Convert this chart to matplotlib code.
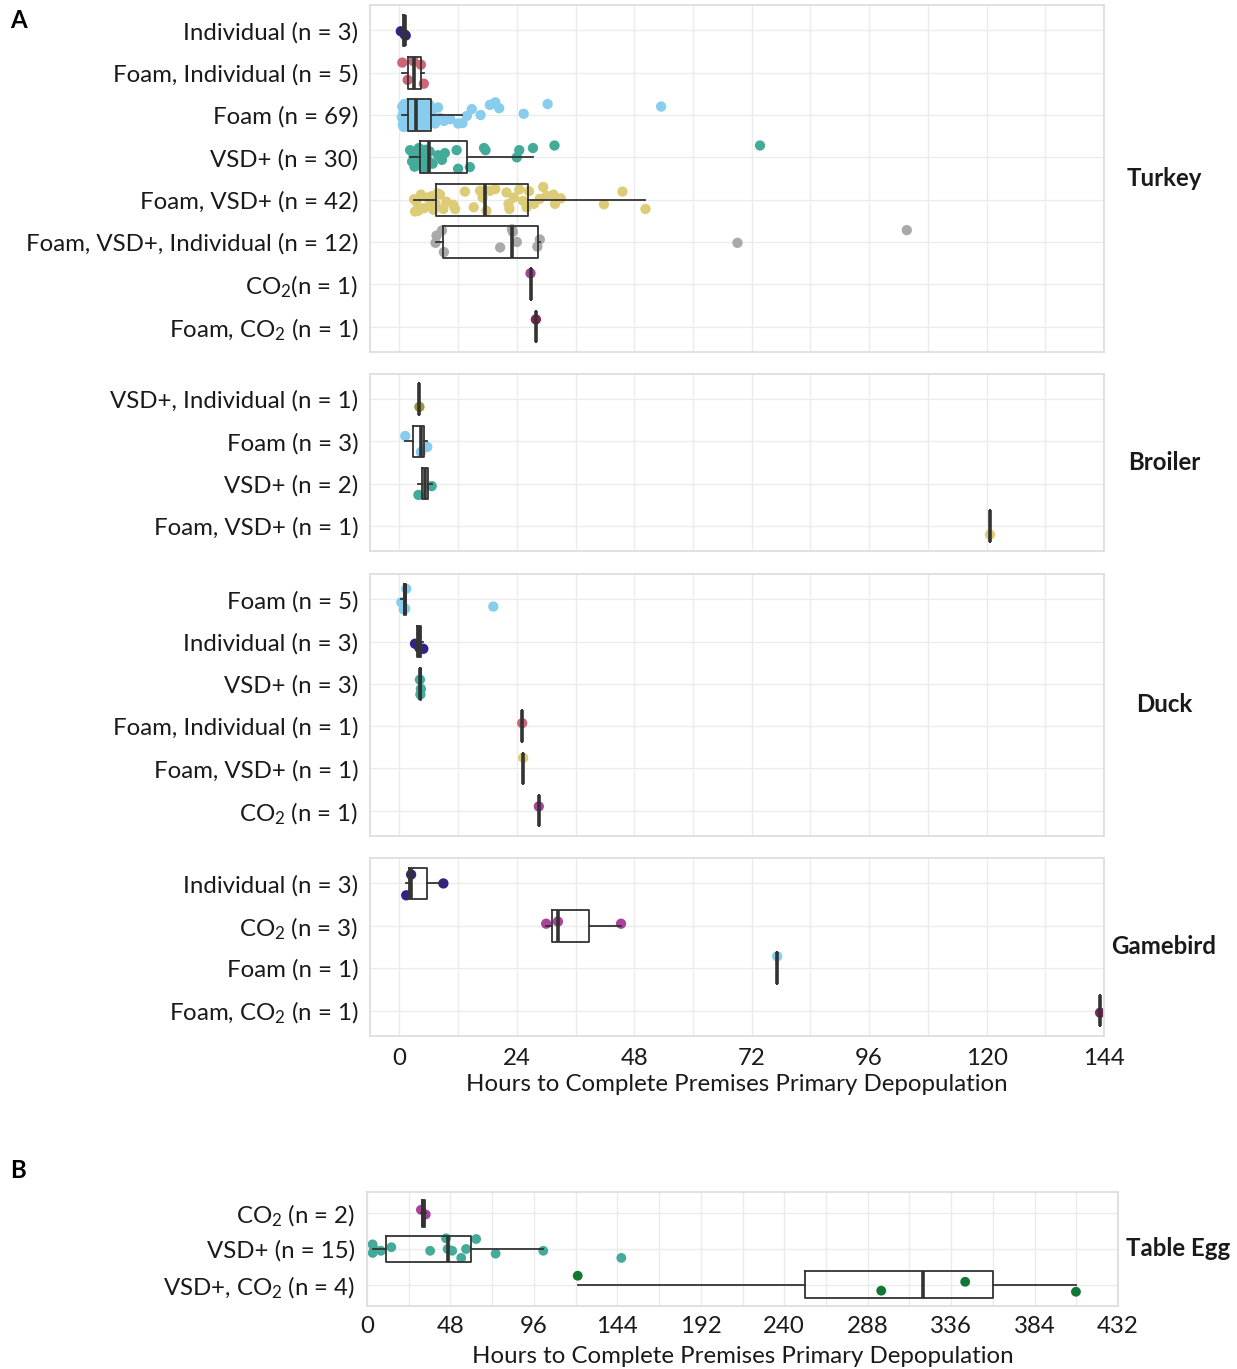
import matplotlib
matplotlib.use('Agg')
import matplotlib.pyplot as plt
import numpy as np

plt.rcParams['font.family'] = ['Lato', 'DejaVu Sans']
plt.rcParams['mathtext.fontset'] = 'custom'
plt.rcParams['mathtext.rm'] = 'Lato'
plt.rcParams['mathtext.it'] = 'Lato:italic'
plt.rcParams['mathtext.bf'] = 'Lato:bold'

# Treatment colours (Tol muted palette)
colors = {
    'Individual': '#332288',
    'Foam, Individual': '#CC6677',
    'Foam': '#88CCEE',
    'VSD+': '#44AA99',
    'Foam, VSD+': '#DDCC77',
    'Foam, VSD+, Individual': '#A9A9A9',
    'CO2': '#AA4499',
    'Foam, CO2': '#882255',
    'VSD+, Individual': '#999933',
    'VSD+, CO2': '#117733',
}

# ---- Turkey ----
turkey_groups = ['Individual', 'Foam, Individual', 'Foam', 'VSD+', 'Foam, VSD+',
                 'Foam, VSD+, Individual', 'CO2', 'Foam, CO2']
turkey_labels = ['Individual (n = 3)', 'Foam, Individual (n = 5)', 'Foam (n = 69)',
                 'VSD+ (n = 30)', 'Foam, VSD+ (n = 42)', 'Foam, VSD+, Individual (n = 12)',
                 'CO$_2$(n = 1)', 'Foam, CO$_2$ (n = 1)']
turkey_hours = [
    [0.3, 1.1, 1.3],
    [0.6, 1.7, 2.9, 4.4, 5.0],
    [0.5, 0.6, 0.7, 0.8, 0.85, 0.9, 1.0, 1.05, 1.1, 1.2, 1.3, 1.35, 1.4, 1.5, 1.6, 1.7, 1.75,
     1.8, 1.9, 2.0, 2.1, 2.2, 2.3, 2.4, 2.5, 2.6, 2.7, 2.8, 2.9, 3.0, 3.1, 3.2, 3.3, 3.4,
     3.5, 3.6, 3.8, 3.9, 4.0, 4.2, 4.4, 4.5, 4.7, 4.9, 5.0, 5.2, 5.5, 5.7, 5.9, 6.1, 6.3,
     6.4, 6.8, 7.3, 7.9, 8.3, 9.1, 10.4, 12.0, 12.9, 13.8, 14.8, 16.6, 18.5, 19.6, 20.4,
     25.4, 30.3, 53.5],
    [2.2, 2.6, 2.9, 3.1, 3.4, 3.6, 3.9, 4.0, 4.5, 4.7, 4.9, 5.2, 5.4, 5.6, 5.9, 6.2,
     6.8, 7.9, 8.7, 9.3, 11.7, 12.0, 14.4, 17.3, 17.6, 24.0, 24.5, 27.3, 31.7, 73.7],
    [3.0, 3.2, 3.5, 3.9, 4.4, 5.1, 5.8, 6.3, 6.6, 7.0, 7.4, 7.8, 8.3, 9.0, 9.6, 11.0,
     11.4, 13.4, 15.2, 16.5, 17.0, 17.8, 18.5, 19.6, 21.9, 22.3, 22.5, 23.4, 24.5, 25.3,
     26.0, 26.5, 27.5, 28.7, 29.4, 30.1, 31.5, 31.8, 33.0, 41.8, 45.6, 50.3],
    [7.4, 7.6, 8.7, 9.1, 20.6, 23.0, 23.2, 24.0, 28.2, 28.7, 69.1, 103.7],
    [26.8],
    [27.9],
]
turkey_jitter = [
    [0.02, 0.10, 0.12],
    [-0.24, 0.17, -0.27, -0.19, 0.26],
    [0.05, -0.20, 0.22, -0.05, 0.28, 0.12, -0.26, 0.18, -0.12, 0.25, 0.02, -0.22, 0.15,
     -0.08, 0.27, -0.18, 0.08, -0.28, 0.20, -0.02, 0.24, -0.15, 0.10, -0.25, 0.28, 0.00,
     -0.20, 0.16, -0.10, 0.22, -0.27, 0.06, 0.26, -0.16, 0.13, -0.24, 0.21, -0.06, 0.27,
     -0.14, 0.09, -0.28, 0.18, -0.01, 0.25, -0.20, 0.11, -0.09, 0.23, -0.25, 0.04, 0.16,
     -0.12, 0.20, -0.18, 0.07, 0.14, 0.10, 0.20, 0.19, 0.02, -0.14, 0.00, -0.24, -0.30,
     -0.16, -0.03, -0.26, -0.20],
    [-0.17, 0.10, -0.05, 0.22, -0.12, 0.05, 0.18, -0.22, 0.12, -0.08, 0.26, 0.02, -0.18,
     0.20, 0.08, -0.14, 0.15, -0.05, 0.06, -0.10, -0.17, 0.27, 0.23, -0.22, -0.17, 0.00,
     -0.17, -0.22, -0.28, -0.28],
    [-0.01, 0.28, 0.05, 0.26, -0.12, 0.20, -0.05, 0.15, -0.08, 0.24, 0.10, -0.15, -0.12,
     0.22, 0.05, 0.12, 0.22, -0.19, 0.18, -0.21, -0.05, 0.26, -0.21, -0.25, -0.17, 0.10,
     0.22, -0.05, -0.24, 0.03, 0.18, -0.20, 0.10, -0.02, -0.30, -0.09, -0.12, 0.10, -0.03,
     0.11, -0.19, 0.22],
    [0.02, -0.15, -0.27, 0.24, 0.13, -0.30, -0.24, 0.00, 0.11, -0.06, 0.02, -0.28],
    [-0.26],
    [-0.17],
]

# ---- Broiler ----
broiler_groups = ['VSD+, Individual', 'Foam', 'VSD+', 'Foam, VSD+']
broiler_labels = ['VSD+, Individual (n = 1)', 'Foam (n = 3)', 'VSD+ (n = 2)',
                  'Foam, VSD+ (n = 1)']
broiler_hours = [[4.1], [1.2, 4.4, 5.7], [3.9, 6.6], [120.7]]
broiler_jitter = [[0.18], [-0.13, 0.25, 0.13], [0.27, 0.06], [0.21]]

# ---- Duck ----
duck_groups = ['Foam', 'Individual', 'VSD+', 'Foam, Individual', 'Foam, VSD+', 'CO2']
duck_labels = ['Foam (n = 5)', 'Individual (n = 3)', 'VSD+ (n = 3)',
               'Foam, Individual (n = 1)', 'Foam, VSD+ (n = 1)', 'CO$_2$ (n = 1)']
duck_hours = [[0.4, 0.9, 1.2, 1.4, 19.2], [3.2, 4.1, 4.9], [4.2, 4.3, 4.4],
              [25.1], [25.3], [28.5]]
duck_jitter = [[0.07, 0.24, 0.22, -0.25, 0.17], [0.05, 0.15, 0.17], [-0.10, 0.25, 0.12],
               [-0.07], [-0.25], [-0.10]]

# ---- Gamebird ----
gamebird_groups = ['Individual', 'CO2', 'Foam', 'Foam, CO2']
gamebird_labels = ['Individual (n = 3)', 'CO$_2$ (n = 3)', 'Foam (n = 1)',
                   'Foam, CO$_2$ (n = 1)']
gamebird_hours = [[1.4, 2.4, 9.0], [30.0, 32.4, 45.3], [77.2], [143.2]]
gamebird_jitter = [[0.28, -0.21, 0.00], [-0.05, -0.10, -0.05], [-0.28], [0.05]]

# ---- Table Egg ----
egg_groups = ['CO2', 'VSD+', 'VSD+, CO2']
egg_labels = ['CO$_2$ (n = 2)', 'VSD+ (n = 15)', 'VSD+, CO$_2$ (n = 4)']
egg_hours = [
    [31.0, 33.8],
    [3.2, 3.3, 4.0, 8.0, 14.0, 36.3, 45.5, 46.4, 49.0, 54.2, 57.0, 62.8, 74.0, 101.4, 146.3],
    [121.2, 295.8, 344.1, 407.8],
]
egg_jitter = [
    [-0.10, 0.03],
    [-0.13, 0.11, 0.00, 0.05, -0.05, 0.05, -0.30, 0.00, 0.05, 0.25, 0.00, -0.28, 0.13,
     0.05, 0.25],
    [-0.25, 0.17, -0.08, 0.20],
]

W, H = 1237, 1369
fig = plt.figure(figsize=(W / 100, H / 100), dpi=100)
fig.patch.set_facecolor('white')

FS = 17.3
text_col = '#1a1a1a'
line_col = '#333333'


def px_axes(x0, y0, x1, y1):
    return fig.add_axes([x0 / W, 1 - y1 / H, (x1 - x0) / W, (y1 - y0) / H])


def draw_panel(ax, groups, labels, hours, jitter, strip, xlim, major, minor,
               show_x, strip_x, pt_size=55, xpad=8.5):
    n = len(groups)
    pos = np.arange(n)
    for i in range(n):
        ax.scatter(hours[i], pos[i] + np.array(jitter[i]), s=pt_size,
                   color=colors[groups[i]], edgecolors='none', zorder=2)
    ax.boxplot(hours, positions=pos, orientation='horizontal', widths=0.75, whis=1.5,
               showfliers=False, showcaps=False, manage_ticks=False,
               boxprops=dict(color=line_col, linewidth=1.3),
               whiskerprops=dict(color=line_col, linewidth=1.3),
               medianprops=dict(color=line_col, linewidth=2.6),
               zorder=3)
    ax.set_ylim(n - 1 + 0.6, -0.6)
    ax.set_xlim(*xlim)
    ax.set_yticks(pos)
    ax.set_yticklabels(labels, fontsize=FS, color=text_col)
    ax.set_xticks(major)
    ax.set_xticks(minor, minor=True)
    ax.grid(True, which='both', axis='x', color='#ebebeb', linewidth=1.0, zorder=0)
    ax.grid(True, which='major', axis='y', color='#ebebeb', linewidth=1.0, zorder=0)
    ax.set_axisbelow(True)
    ax.tick_params(axis='both', which='both', length=0)
    ax.tick_params(axis='y', pad=8.5)
    ax.tick_params(axis='x', pad=xpad, labelsize=FS, labelcolor=text_col)
    if not show_x:
        ax.tick_params(axis='x', labelbottom=False)
    for sp in ax.spines.values():
        sp.set_color('#dedede')
        sp.set_linewidth(1.3)
    ax.text(strip_x, 0.5, strip, transform=ax.transAxes, ha='center', va='center',
            fontsize=FS, fontweight='bold', color=text_col)


xa = (370, 1104)
a_lim = (-6, 144)
a_major = np.arange(0, 145, 24)
a_minor = np.arange(12, 144, 24)
strip_a = (1164 - xa[0]) / (xa[1] - xa[0])

ax1 = px_axes(xa[0], 5, xa[1], 352)
draw_panel(ax1, turkey_groups, turkey_labels, turkey_hours, turkey_jitter, 'Turkey',
           a_lim, a_major, a_minor, False, strip_a)
ax2 = px_axes(xa[0], 374, xa[1], 551)
draw_panel(ax2, broiler_groups, broiler_labels, broiler_hours, broiler_jitter, 'Broiler',
           a_lim, a_major, a_minor, False, strip_a)
ax3 = px_axes(xa[0], 574, xa[1], 836)
draw_panel(ax3, duck_groups, duck_labels, duck_hours, duck_jitter, 'Duck',
           a_lim, a_major, a_minor, False, strip_a)
ax4 = px_axes(xa[0], 858, xa[1], 1036)
draw_panel(ax4, gamebird_groups, gamebird_labels, gamebird_hours, gamebird_jitter,
           'Gamebird', a_lim, a_major, a_minor, True, strip_a, xpad=8.5)
ax4.set_xlabel('Hours to Complete Premises Primary Depopulation', fontsize=FS,
               color=text_col, labelpad=4)

xb = (367, 1118)
ax5 = px_axes(xb[0], 1192, xb[1], 1306)
draw_panel(ax5, egg_groups, egg_labels, egg_hours, egg_jitter, 'Table Egg',
           (0, 432), np.arange(0, 433, 48), np.arange(24, 432, 48), True,
           (1178 - xb[0]) / (xb[1] - xb[0]), pt_size=50, xpad=7)
ax5.set_xlabel('Hours to Complete Premises Primary Depopulation', fontsize=FS,
               color=text_col, labelpad=6.5)

fig.text(18 / W, 1 - 20 / H, 'A', fontsize=FS, fontweight='bold', ha='center',
         va='center', color='black')
fig.text(18 / W, 1 - 1170 / H, 'B', fontsize=FS, fontweight='bold', ha='center',
         va='center', color='black')

fig.savefig('out.png', dpi=100, facecolor='white')
